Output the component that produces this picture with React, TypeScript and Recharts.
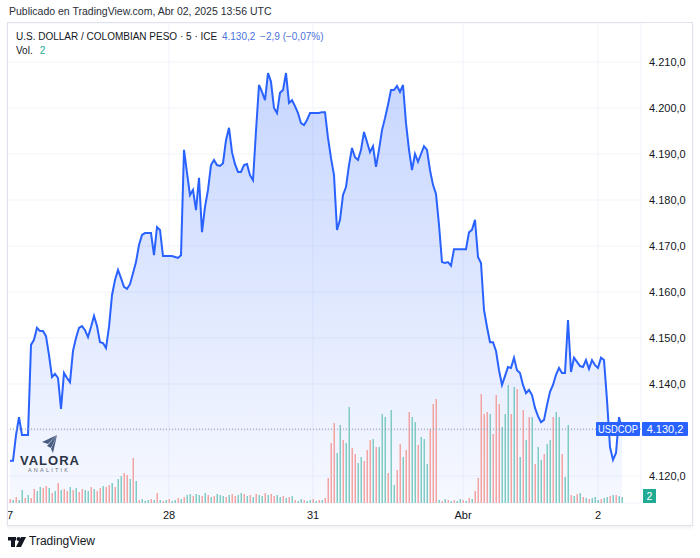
import React from 'react';
import {
  ComposedChart, Area, Line, Bar, Cell, XAxis, YAxis, CartesianGrid, ReferenceLine,
} from 'recharts';

// cierres de velas de 5 min, USD/COP (27 mar - 2 abr 2025)
const precios = [
  4123.3, 4123.3, 4128.9, 4132.8, 4128.9, 4128.9, 4128.9, 4148.5, 4149.6, 4152.2,
  4151.5, 4151.5, 4150.4, 4146.3, 4141.5, 4142.2, 4141.3, 4134.6, 4142.4, 4141.3,
  4140.4, 4147.2, 4150.0, 4152.2, 4152.6, 4151.7, 4150.2, 4152.4, 4154.8, 4152.6,
  4149.1, 4148.9, 4147.8, 4152.4, 4159.3, 4162.6, 4164.8, 4163.0, 4161.1, 4160.7,
  4161.7, 4164.1, 4166.5, 4170.2, 4172.4, 4172.8, 4172.8, 4172.8, 4168.0, 4174.1,
  4173.5, 4167.8, 4167.8, 4167.8, 4167.8, 4167.6, 4167.4, 4168.0, 4190.9, 4185.9,
  4181.1, 4182.2, 4177.8, 4184.8, 4173.0, 4178.5, 4182.2, 4187.6, 4188.7, 4187.6,
  4187.4, 4188.0, 4193.0, 4195.7, 4190.4, 4187.8, 4186.1, 4186.1, 4187.6, 4187.8,
  4185.4, 4184.3, 4195.0, 4205.0, 4203.5, 4201.7, 4207.6, 4205.7, 4200.0, 4198.9,
  4203.3, 4203.9, 4207.6, 4201.1, 4201.7, 4200.4, 4198.9, 4196.7, 4196.3, 4197.4,
  4198.9, 4198.9, 4198.9, 4198.9, 4199.1, 4199.1, 4193.5, 4189.1, 4185.4, 4173.5,
  4175.7, 4181.1, 4182.8, 4187.6, 4191.3, 4189.3, 4188.7, 4190.9, 4194.8, 4192.6,
  4190.4, 4191.7, 4187.2, 4190.9, 4195.2, 4197.8, 4200.7, 4203.9, 4203.9, 4204.8,
  4203.5, 4205.0, 4196.7, 4190.9, 4186.5, 4190.0, 4188.3, 4190.0, 4191.7, 4190.9,
  4186.5, 4183.3, 4181.3, 4174.6, 4166.5, 4166.3, 4166.5, 4165.7, 4169.3, 4169.3,
  4169.3, 4169.3, 4169.3, 4173.0, 4173.5, 4175.7, 4167.6, 4166.3, 4156.1, 4152.4,
  4149.1, 4149.1, 4147.2, 4143.0, 4139.8, 4141.7, 4143.7, 4143.5, 4145.7, 4143.0,
  4142.4, 4139.8, 4138.0, 4138.7, 4137.6, 4134.8, 4133.0, 4131.7, 4132.2, 4135.4,
  4138.3, 4139.8, 4142.0, 4143.5, 4142.4, 4142.4, 4153.9, 4142.6, 4145.7, 4144.8,
  4143.9, 4143.7, 4145.2, 4143.3, 4145.2, 4144.1, 4143.5, 4145.7, 4145.2, 4136.5,
  4126.3, 4123.5, 4125.0, 4132.8, 4130.2,
];

const volumen = [
  4, 3, 6, 3, 13, 5, 8, 5, 14, 12, 16, 15, 17, 15, 10, 12, 20, 13,
  14, 12, 16, 13, 15, 11, 14, 13, 12, 16, 14, 12, 15, 17, 16, 18,
  20, 16, 24, 27, 30, 28, 24, 45, 22,
  3, 4, 2, 3, 4, 3, 10, 3, 2, 3, 4, 2, 3, 5, 4,
  6, 8, 9, 7, 9, 8, 7, 10, 8, 6, 7, 9, 8, 7, 6, 8, 9, 7, 8, 10, 9, 7, 8, 6, 9,
  8, 7, 10, 8, 9, 7, 8, 6, 7, 5, 6, 7,
  3, 2, 4, 3, 2, 3, 4, 2, 3, 3, 5,
  25, 60, 80, 50, 78, 63, 60, 96, 55, 49, 40, 46, 42, 53, 63, 64, 56, 56, 89, 86,
  30, 93, 18, 33, 59, 46, 53, 91, 86, 81, 58, 66, 64, 39, 74, 99, 104,
  3, 2, 4, 3, 2, 3, 2, 4, 3, 2, 5, 4,
  12, 25,
  109, 89, 91, 89, 69, 108, 99, 76, 89, 118, 89, 116, 114, 46, 93, 63, 86, 86, 39, 56,
  43, 49, 59, 63, 86, 91, 86, 49, 26, 78,
  8, 7, 9, 10, 6, 5, 4, 5, 6, 3, 4, 5, 6, 7, 8, 8, 7, 6,
];

// g = vela alcista, r = bajista
const colorVol =
  'rgrggrgrrg' + 'grrgrgrgrr' + 'grgrrggrgr' + 'rgrrgrggrr' + 'grgrgggrgr' +
  'grgrggrgrg' + 'grggrgrgrg' + 'ggrgrrggrg' + 'rgrggrgrrg' + 'grgrgrggrg' +
  'grgrgrrrrg' + 'grggrrggrr' + 'rgrgggrggr' + 'rgrrggrggg' + 'rrrgrgrgrg' +
  'grgrgrrrrr' + 'grrrgggrgr' + 'grgrgrggrg' + 'grggrggrgr' + 'grgrgggrgg' +
  'rgrgg';

const diaTicks = [-1, 53, 101, 151, 196];
const diaLabels = ['27', '28', '31', 'Abr', '2'];
const precioTicks = [4120, 4130, 4140, 4150, 4160, 4170, 4180, 4190, 4200, 4210];
const ultimo = 4130.2;

const datos = precios.map((p, i) => ({ i, p, v: volumen[i], up: colorVol[i] === 'g' }));

const FUENTE = '"Liberation Sans", Arial, sans-serif';
const AZUL = '#2962ff';

const fmtPrecio = (v: number) =>
  `${Math.floor(v / 1000)}.${String(Math.round(v % 1000)).padStart(3, '0')},0`;

const fmtDia = (v: number) => diaLabels[diaTicks.indexOf(v)] ?? '';

// la etiqueta del último precio tapa la marca del eje que cae debajo
const TickPrecio = (props: any) => {
  const { x, y, payload } = props;
  if (Math.abs(payload.value - ultimo) < 2.5) return <g />;
  return (
    <text x={x} y={y} dy={4} fontSize={11} fill="#131722" fontFamily={FUENTE} textAnchor="start">
      {fmtPrecio(payload.value)}
    </text>
  );
};

const EtiquetaUltimo = (props: any) => {
  const { x, y, width } = props.viewBox;
  const r = x + width;
  return (
    <g>
      <rect x={r - 45} y={y - 7} width={44} height={14} fill={AZUL} rx={1} />
      <text x={r - 43} y={y + 4} fill="#fff" fontSize={10.5} textLength={40} lengthAdjust="spacingAndGlyphs" fontFamily={FUENTE}>USDCOP</text>
      <rect x={r + 1} y={y - 7} width={46} height={14} fill={AZUL} rx={1} />
      <text x={r + 24} y={y + 4} fill="#fff" fontSize={11} textAnchor="middle" fontFamily={FUENTE}>4.130,2</text>
    </g>
  );
};

export default function App() {
  return (
    <div style={{ position: 'absolute', left: 0, top: 0, width: 700, height: 558, background: '#fff', fontFamily: FUENTE, color: '#131722' }}>
      <div style={{ position: 'absolute', left: 9, top: 5, fontSize: 10.5, color: '#2a2e39' }}>
        Publicado en TradingView.com, Abr 02, 2025 13:56 UTC
      </div>

      <div style={{ position: 'absolute', left: 8, top: 23, width: 684, height: 502, overflow: 'hidden' }}>
        <div style={{ position: 'absolute', left: -4, top: 0 }}>
          <ComposedChart width={688} height={502} data={datos} margin={{ top: 0, right: 0, bottom: 0, left: 0 }}>
            <defs>
              <linearGradient id="relleno" x1="0" y1="0" x2="0" y2="1">
                <stop offset="0%" stopColor={AZUL} stopOpacity={0.26} />
                <stop offset="100%" stopColor={AZUL} stopOpacity={0.04} />
              </linearGradient>
            </defs>
            <CartesianGrid yAxisId="price" stroke="#f0f3fa" />
            <XAxis
              type="number" dataKey="i" domain={[-2, 631 / 3]} allowDataOverflow
              ticks={diaTicks} interval={0} tickFormatter={fmtDia}
              axisLine={false} tickLine={false} height={22}
              tick={{ fontSize: 11, fill: '#131722', fontFamily: FUENTE }}
            />
            <YAxis
              yAxisId="price" orientation="right" domain={[4114.13, 4218.48]} allowDataOverflow
              ticks={precioTicks} interval={0}
              axisLine={false} tickLine={false} width={51}
              tick={<TickPrecio />}
            />
            <YAxis yAxisId="vol" hide domain={[0, 480]} />
            <Area
              yAxisId="price" dataKey="p" type="linear" stroke="none"
              fill="url(#relleno)" fillOpacity={1} isAnimationActive={false}
            />
            <Bar yAxisId="vol" dataKey="v" barSize={1.5} isAnimationActive={false}>
              {datos.map((d) => (
                <Cell key={d.i} fill={d.up ? '#80cbc4' : '#f4a3a3'} />
              ))}
            </Bar>
            <Line
              yAxisId="price" dataKey="p" type="linear" stroke={AZUL} strokeWidth={2}
              dot={false} activeDot={false} isAnimationActive={false}
            />
            <ReferenceLine
              yAxisId="price" y={ultimo} stroke="#9598a1" strokeDasharray="1 2"
              label={EtiquetaUltimo}
            />
          </ComposedChart>
        </div>
      </div>

      <div style={{ position: 'absolute', left: 7, top: 22, width: 686, height: 504, border: '1px solid #e0e3eb', boxSizing: 'border-box', boxShadow: '0 2px 3px rgba(0,0,0,0.06)', pointerEvents: 'none' }} />

      <div style={{ position: 'absolute', left: 16, top: 31, fontSize: 10, whiteSpace: 'nowrap' }}>
        U.S. DOLLAR / COLOMBIAN PESO · 5 · ICE{' '}
        <span style={{ color: '#4a72d9', marginLeft: 2 }}>4.130,2</span>{' '}
        <span style={{ color: '#4a72d9', marginLeft: 2 }}>−2,9 (−0,07%)</span>
      </div>
      <div style={{ position: 'absolute', left: 16, top: 45, fontSize: 10 }}>
        Vol.<span style={{ color: '#22ab94', marginLeft: 7 }}>2</span>
      </div>

      <div style={{ position: 'absolute', left: 643, top: 489, width: 13, height: 14, background: '#22ab94', color: '#fff', fontSize: 10.5, textAlign: 'center', lineHeight: '14px' }}>2</div>

      {/* marca de agua Valora Analitik */}
      <svg style={{ position: 'absolute', left: 41, top: 435 }} width={17} height={18}>
        <polygon points="16,0 1,7 7,9" fill="#4a5c82" />
        <polygon points="16,0 6,11 10,13" fill="#4a5c82" />
        <polygon points="16,0 10,14 12,18" fill="#4a5c82" />
      </svg>
      <div style={{ position: 'absolute', left: 20, top: 453, fontSize: 13, fontWeight: 700, letterSpacing: 1, color: '#2b3445' }}>VALORA</div>
      <div style={{ position: 'absolute', left: 28, top: 467, fontSize: 5.5, letterSpacing: 2.2, color: '#6b7280' }}>ANALITIK</div>

      {/* logo inferior */}
      <svg style={{ position: 'absolute', left: 8, top: 537 }} width={18} height={10}>
        <rect x={0} y={0} width={8} height={3.5} fill="#131722" />
        <rect x={3} y={0} width={4} height={10} fill="#131722" />
        <circle cx={10.5} cy={2} r={2} fill="#131722" />
        <polygon points="13,0 18,0 13,10 8,10" fill="#131722" />
      </svg>
      <div style={{ position: 'absolute', left: 29, top: 534, fontSize: 12, color: '#131722' }}>TradingView</div>
    </div>
  );
}
